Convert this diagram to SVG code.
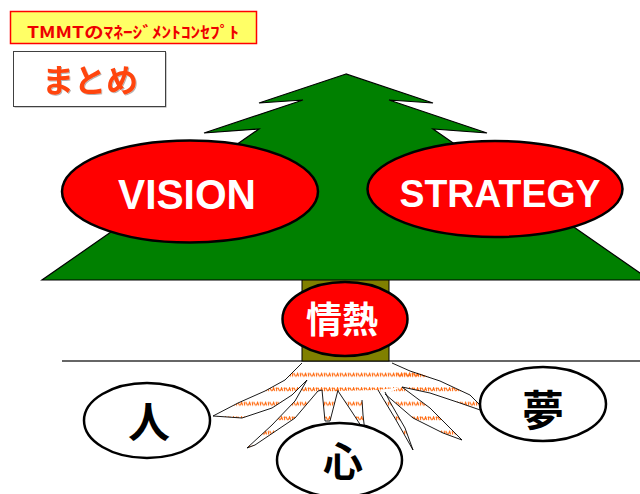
<svg xmlns="http://www.w3.org/2000/svg" width="640" height="494" viewBox="0 0 640 494">
  <defs>
    <!-- fine orange hatch used inside the roots -->
    <pattern id="rootTexture" patternUnits="userSpaceOnUse" x="0" y="372.5" width="8" height="14.5">
      <path d="M0.4,4 L1.6,0.8 L2.8,4 M3.6,1.2 L5.6,1.2 M4.6,0.6 L4.6,4 M6,0.8 L7.6,4" fill="none" stroke="#ff6a10" stroke-width="1.1"/>
    </pattern>
    <filter id="softShadow" x="-10%" y="-10%" width="130%" height="140%">
      <feDropShadow dx="1" dy="1" stdDeviation="0.6" flood-color="#000" flood-opacity="0.3"/>
    </filter>
  </defs>
  <style>
    .jp { font-family: "Noto Sans CJK JP", "Noto Sans", sans-serif; font-weight: bold; }
    .latin { font-family: "Liberation Sans", Arial, sans-serif; font-weight: bold; }
    .oval { fill: #ff0000; stroke: #000; stroke-width: 2.5; }
    .plain { fill: #fff; stroke: #000; stroke-width: 2.5; }
    .white { fill: #fff; }
    .ink { fill: #000; }
    .root { fill: url(#rootTexture); stroke: #000; stroke-width: 0.9; stroke-linejoin: round; }
  </style>

  <rect width="640" height="494" fill="#fff"/>

  <!-- headline -->
  <g id="title">
    <rect x="10.5" y="11.5" width="246" height="32" fill="#ffff66" stroke="#ff0000" stroke-width="1.5"/>
    <text x="27" y="38" class="jp" font-size="16" fill="#ee0000" textLength="212" lengthAdjust="spacingAndGlyphs">TMMTのﾏﾈｰｼﾞﾒﾝﾄｺﾝｾﾌﾟﾄ</text>
  </g>

  <g id="summary">
    <rect x="14.5" y="52.5" width="152" height="55" fill="#999"/>
    <rect x="13.5" y="51.5" width="152" height="55" fill="#fff" stroke="#404040" stroke-width="1"/>
    <text x="90" y="92" class="jp" font-size="32" fill="#ff4411" text-anchor="middle" filter="url(#softShadow)">まとめ</text>
  </g>

  <!-- ground line -->
  <line x1="62" y1="361" x2="640" y2="361" stroke="#333" stroke-width="1.5"/>

  <!-- trunk -->
  <g id="trunk">
    <rect x="302" y="272" width="87" height="89" fill="#808000" stroke="#000" stroke-width="1"/>
  </g>

  <!-- tree crown -->
  <g id="tree">
    <polygon points="346,74 259,103 303,100 204,133 259,129 42,280 650,280 433,129 487,133 389,100 433,103"
             fill="#008000" stroke="#000" stroke-width="1.2" stroke-linejoin="miter"/>
  </g>

  <g id="vision">
    <ellipse cx="190" cy="191.5" rx="128" ry="51" class="oval"/>
    <text x="187" y="209" class="latin white" font-size="43" text-anchor="middle" textLength="138" lengthAdjust="spacingAndGlyphs">VISION</text>
  </g>

  <g id="strategy">
    <ellipse cx="495" cy="189" rx="127.5" ry="48" class="oval"/>
    <text x="500" y="207" class="latin white" font-size="38" text-anchor="middle" textLength="201" lengthAdjust="spacingAndGlyphs">STRATEGY</text>
  </g>

  <g id="passion">
    <ellipse cx="345" cy="319" rx="62.5" ry="37" class="oval"/>
    <text x="342" y="333" class="jp white" font-size="36" text-anchor="middle">情熱</text>
  </g>

  <!-- roots spreading from the trunk -->
  <g id="roots">
    <polygon points="300,364 392,363 440,381 402,387 378,390 338,391 322,390 307,380" fill="url(#rootTexture)" stroke="none"/>
    <path class="root" d="M302,363 L285,380 L265,391 L238,403 L213,416 L242,418 L272,408 L292,395 L307,380"/>
    <path class="root" d="M307,380 L295,401 L272,425 L247,448 L255,445 L295,418 L318,391 L322,390"/>
    <path class="root" d="M322,390 L325,421 L330,421 L338,390"/>
    <path class="root" d="M338,391 L352,412 L365,432 L363,415 L362,400"/>
    <path class="root" d="M378,390 L396,420 L413,450 L405,428 L390,402 L385,392"/>
    <path class="root" d="M402,387 L430,408 L462,440 L443,433 L413,418 L385,394"/>
    <path class="root" d="M392,363 L410,371 L440,381 L470,395 L485,410 L486,412 L460,403 L430,393 L402,387"/>
  </g>

  <g id="people">
    <ellipse cx="147" cy="420.5" rx="63" ry="37.5" class="plain"/>
    <text x="149" y="438" class="jp ink" font-size="42" text-anchor="middle">人</text>
  </g>

  <g id="heart">
    <ellipse cx="339.5" cy="460" rx="62.5" ry="37" class="plain"/>
    <text x="343" y="476" class="jp ink" font-size="40" text-anchor="middle">心</text>
  </g>

  <g id="dream">
    <ellipse cx="543" cy="404" rx="63" ry="37" class="plain"/>
    <text x="543" y="426" class="jp ink" font-size="42" text-anchor="middle">夢</text>
  </g>
</svg>
